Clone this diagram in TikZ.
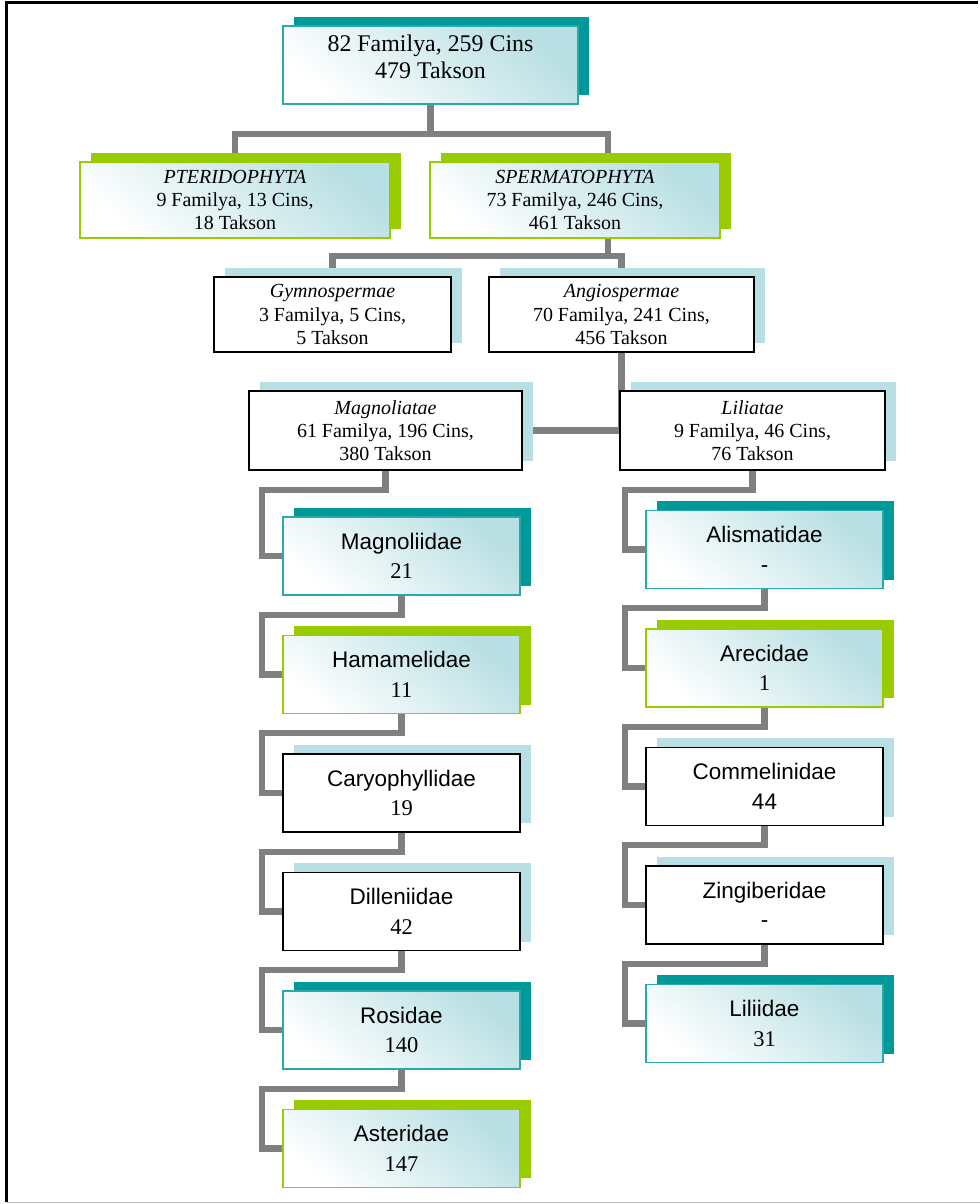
\documentclass[tikz,border=0pt]{standalone}
\usepackage{fontspec}
\setmainfont{Liberation Serif}
\setsansfont{Liberation Sans}
\usetikzlibrary{positioning,shadows,backgrounds}
\definecolor{tealdark}{RGB}{0,153,153}
\definecolor{tealline}{RGB}{40,170,170}
\definecolor{leafgreen}{RGB}{153,204,0}
\definecolor{paleblue}{RGB}{184,223,227}
\definecolor{linkgray}{RGB}{128,128,128}

\begin{document}
\begin{tikzpicture}[
  x=0.025cm, y=-0.025cm,
  node distance=0.98cm,
  box/.style={rectangle,align=center,inner sep=0pt,line width=0.9pt,font=\fontsize{14.2}{16.4}\selectfont},
  shaded/.style={box,top color=paleblue,bottom color=white,shading angle=-40},
  tealbox/.style={shaded,draw=tealline,general shadow={shadow xshift=0.275cm,shadow yshift=0.225cm,fill=tealdark}},
  greenbox/.style={shaded,draw=leafgreen,general shadow={shadow xshift=0.275cm,shadow yshift=0.225cm,fill=leafgreen}},
  plainbox/.style={box,draw=black,fill=white,general shadow={shadow xshift=0.275cm,shadow yshift=0.225cm,fill=paleblue}},
  sub/.style={minimum width=5.925cm,minimum height=1.95cm,font=\fontsize{16}{21}\selectfont},
  link/.style={draw=linkgray,line width=4.3pt}
]
\useasboundingbox (0,0) rectangle (980,1204);
\draw[black,line width=1.6pt] (978,2.5) -- (6.5,2.5) -- (6.5,1202);
\draw[gray!55,line width=1.2pt] (6.5,1202.5) -- (980,1202.5);

% upper levels
\node[tealbox,minimum width=7.375cm,minimum height=1.95cm,font=\fontsize{17}{19.2}\selectfont] (root) at (430.5,65)
  {82 Familya, 259 Cins\\479 Takson\\[-8pt]\mbox{}};
\node[greenbox,minimum width=7.75cm,minimum height=1.9cm] (pter) at (235,200)
  {\textit{PTERIDOPHYTA}\\9 Familya, 13 Cins,\\18 Takson};
\node[greenbox,minimum width=7.25cm,minimum height=1.9cm] (sperm) at (575,200)
  {\textit{SPERMATOPHYTA}\\73 Familya, 246 Cins,\\461 Takson};
\node[plainbox,minimum width=5.925cm,minimum height=1.875cm] (gymno) at (332.5,314.5)
  {\textit{Gymnospermae}\\3 Familya, 5 Cins,\\5 Takson};
\node[plainbox,minimum width=6.625cm,minimum height=1.875cm] (angio) at (621.5,314.5)
  {\textit{Angiospermae}\\70 Familya, 241 Cins,\\456 Takson};
\node[plainbox,minimum width=6.825cm,minimum height=1.975cm] (magnol) at (385.5,430.5)
  {\textit{Magnoliatae}\\61 Familya, 196 Cins,\\380 Takson};
\node[plainbox,minimum width=6.625cm,minimum height=1.975cm] (lili) at (752.5,430.5)
  {\textit{Liliatae}\\9 Familya, 46 Cins,\\76 Takson};

% Magnoliatae column
\node[tealbox,sub] (mgd) at (401.5,556) {\textsf{Magnoliidae}\\21};
\node[greenbox,sub,below=of mgd] (ham) {\textsf{Hamamelidae}\\11};
\node[plainbox,sub,below=of ham] (car) {\textsf{Caryophyllidae}\\19};
\node[plainbox,sub,below=of car] (dil) {\textsf{Dilleniidae}\\42};
\node[tealbox,sub,below=of dil] (ros) {\textsf{Rosidae}\\140};
\node[greenbox,sub,below=of ros] (ast) {\textsf{Asteridae}\\147};

% Liliatae column
\node[tealbox,sub] (ali) at (764.5,549.5) {\textsf{Alismatidae}\\\textsf{-}};
\node[greenbox,sub,below=of ali] (are) {\textsf{Arecidae}\\1};
\node[plainbox,sub,below=of are] (com) {\textsf{Commelinidae}\\\textsf{44}};
\node[plainbox,sub,below=of com] (zin) {\textsf{Zingiberidae}\\\textsf{-}};
\node[tealbox,sub,below=of zin] (lil) {\textsf{Liliidae}\\31};

\begin{scope}[on background layer]
\draw[link] (root.south) -- ++(0,29) coordinate (rj) -| (pter.north);
\draw[link] (rj) -| ([xshift=0.825cm]sperm.north);
\draw[link] ([xshift=0.825cm]sperm.south) -- ++(0,17) coordinate (sj) -| (gymno.north);
\draw[link] (sj) -| (angio.north);
\draw[link] (angio.south) -- (angio.south |- magnol.east);
\draw[link] (magnol.east) -- (lili.west);
\foreach \a/\b in {magnol/mgd,mgd/ham,ham/car,car/dil,dil/ros,ros/ast,lili/ali,ali/are,are/com,com/zin,zin/lil}
  \draw[link] (\a.south) -- ++(0,19) -| ([xshift=-0.5cm]\b.west) -- (\b.west);
\end{scope}
\end{tikzpicture}
\end{document}
